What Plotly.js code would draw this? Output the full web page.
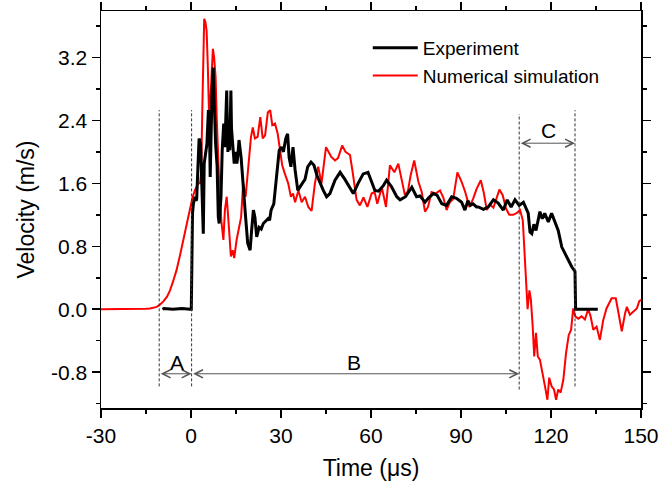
<!DOCTYPE html>
<html>
<head>
<meta charset="utf-8">
<script src="https://cdn.plot.ly/plotly-3.0.1.min.js"></script>
<style>html,body{margin:0;padding:0;background:#fff;}#chart{width:671px;height:484px;}</style>
</head>
<body>
<div id="chart"></div>
<script>
// ---- Data ----
const simTime = [-30,-20,-15,-13.7,-12.5,-11.4,-10.3,-9.2,-8,-7,-6,-4.8,-3.7,-2.6,-1.5,-0.3,0.5,1.3,2.4,3.0,3.4,3.8,4.1,4.4,4.8,5.2,5.6,6.0,6.5,7.0,7.3,7.7,8.2,8.6,9.1,9.6,10.2,10.8,11.3,11.9,12.4,12.9,13.3,13.9,14.4,15.2,15.8,16.7,17.4,18.2,19.1,20.0,20.6,21.3,22.2,23.1,23.9,24.7,25.6,26.4,27.1,28.0,28.9,29.7,30.4,31.3,32.4,33.3,34.0,34.7,35.8,36.9,38.0,39.1,40.2,41.3,42.4,43.5,45.0,46.7,48.0,49.0,50.4,51.5,53.0,53.9,55.2,56.3,57.5,58.8,60.2,61.2,62.1,63.6,65.0,66.3,67.8,69.1,70.2,71.3,72.3,73.2,74.4,75.8,76.9,78.0,79.0,80.2,81.5,83.0,84.1,85.2,86.3,87.4,88.8,90.2,91.4,92.8,94.0,95.2,96.6,97.6,98.6,99.7,100.8,101.9,102.8,103.9,105.0,106.1,107.4,108.5,109.7,110.6,111.1,111.7,112.2,112.8,113.3,113.9,114.4,115.0,115.6,116.3,117.2,118.0,118.8,119.4,120.2,121.0,121.7,122.4,123.2,124.1,125.0,125.9,126.7,127.4,128.1,129.1,130.2,131.3,132.4,133.2,134.1,135.2,136.3,137.4,138.5,140.2,141.6,142.4,143.6,144.7,145.3,146.3,147.4,148.6,149.4,150];
const simVelocity = [0,0,0.005,0.01,0.02,0.03,0.06,0.1,0.16,0.24,0.35,0.5,0.68,0.88,1.08,1.30,1.42,1.51,1.60,1.60,1.75,2.6,3.4,3.69,3.65,3.54,3.1,2.49,2.7,3.2,3.31,3.2,2.95,2.4,1.77,1.4,1.09,0.88,1.26,1.43,1.17,0.9,0.67,0.75,0.65,0.88,1.0,1.17,1.60,1.43,1.81,2.19,2.31,2.17,2.19,2.44,2.17,2.21,2.50,2.53,2.34,2.36,2.23,2.02,1.83,1.72,1.60,1.43,1.47,1.36,1.51,1.36,1.43,1.30,1.25,1.60,1.81,1.6,2.06,1.94,1.89,1.92,2.08,2.0,1.96,1.74,1.39,1.32,1.42,1.30,1.47,1.49,1.34,1.55,1.30,1.83,1.74,1.85,1.64,1.45,1.50,1.70,1.89,1.62,1.49,1.24,1.3,1.49,1.47,1.51,1.42,1.26,1.36,1.4,1.74,1.62,1.49,1.30,1.40,1.53,1.64,1.48,1.26,1.33,1.29,1.41,1.52,1.45,1.28,1.20,1.20,1.22,1.26,1.13,0.75,0.29,0.0,0.24,0.12,-0.22,-0.60,-0.30,-0.60,-0.64,-0.85,-0.98,-1.15,-0.87,-0.98,-1.02,-1.15,-1.02,-1.06,-0.90,-0.56,-0.33,-0.26,0.01,-0.09,-0.12,-0.09,-0.13,0.0,-0.09,-0.26,-0.22,-0.39,-0.14,0.01,0.14,0.14,-0.01,-0.28,-0.05,0.03,-0.07,-0.03,0.01,0.10,0.12];

const expTime = [-9.5,-9,-6,-3,-0.3,0.1,0.3,0.5,0.8,1.3,1.7,1.9,2.3,2.7,3.2,3.6,4.1,4.4,4.8,5.3,5.8,6.1,6.4,6.7,7.0,7.4,7.7,8.0,8.2,8.7,9.1,9.4,10.0,10.4,10.9,11.3,11.6,11.9,12.3,12.6,12.9,13.3,13.5,13.8,14.4,14.8,15.3,15.6,16.0,16.7,17.4,18.2,18.9,19.7,20.2,20.8,21.3,21.9,22.7,23.4,24.1,24.9,25.7,26.2,26.7,27.6,28.2,28.9,29.4,30.2,30.8,31.6,32.2,32.7,33.3,34.0,34.7,35.6,36.3,37.1,38.0,38.9,40.0,41.0,42.0,43.0,44.1,45.2,46.3,48.0,49.7,51.3,53.0,54.1,55.7,57.4,59.0,59.8,61.3,62.5,64.1,65.2,66.8,68.6,69.7,71.5,73.6,75.2,76.3,78.0,79.3,80.8,82.0,83.6,85.2,86.9,88.5,90.2,91.3,92.3,93.1,94.0,95.2,95.8,97.5,99.1,100.8,102.4,104.1,105.4,106.7,108.0,109.4,110.8,111.6,112.4,113.0,113.6,114.3,115.0,116.3,117.1,117.9,119.1,120.2,121.2,122.4,123.6,125.2,126.9,128.0,128.2,135.6];
const expVelocity = [0.0,0.01,0.0,0.01,0.0,0.0,0.6,1.22,1.34,1.43,1.38,1.40,1.8,2.17,2.10,1.60,0.96,1.85,1.95,2.10,2.53,2.45,1.68,2.4,2.75,3.07,2.7,2.4,2.10,1.82,1.17,1.09,1.43,2.02,2.36,2.06,2.4,2.78,2.0,2.2,2.02,2.78,2.3,2.10,1.85,2.0,1.85,1.95,2.15,1.93,1.51,1.17,0.84,0.75,1.0,1.26,1.17,0.92,1.04,1.02,1.09,1.12,1.15,1.13,1.26,1.34,1.60,1.87,2.02,2.06,2.0,2.17,2.23,1.93,1.81,2.06,1.77,1.51,1.56,1.60,1.65,1.81,1.87,1.83,1.70,1.60,1.51,1.43,1.47,1.64,1.74,1.65,1.55,1.47,1.60,1.72,1.74,1.65,1.51,1.50,1.57,1.64,1.56,1.43,1.39,1.43,1.55,1.43,1.44,1.36,1.42,1.47,1.45,1.34,1.32,1.43,1.41,1.36,1.26,1.38,1.32,1.34,1.30,1.30,1.27,1.30,1.39,1.35,1.26,1.39,1.30,1.39,1.32,1.36,1.30,1.22,0.98,0.96,1.08,1.0,1.24,1.15,1.22,1.11,1.22,1.12,1.0,0.79,0.67,0.54,0.48,0.0,0.0];

const xTickVals = [-30,0,30,60,90,120,150];
const xTickText = ['-30','0','30','60','90','120','150'];
const xMinorVals = [-15,15,45,75,105,135];
const yTickVals = [-0.8,0,0.8,1.6,2.4,3.2];
const yTickText = ['-0.8','0.0','0.8','1.6','2.4','3.2'];
const yMinorVals = [-1.2,-0.4,0.4,1.2,2.0,2.8,3.6];

// phase markers (time) and arrow rows (velocity)
const phaseLines = [-10.6, 0.2, 109.4, 128.0];
const phaseLineTop = [2.53, 2.53, 2.48, 2.53];
const phaseLineBottom = [-0.98, -0.98, -1.02, -0.98];
const phaseLabels = ['A','B','C'];
const phaseSpans = [[-10.6,0.2],[0.2,109.4],[109.4,128.0]];
const phaseArrowY = [-0.82,-0.82,2.11];
const phaseLabelPos = [[-4.8,-0.68],[54.3,-0.68],[119.1,2.27]];

const FONT = '"Liberation Sans", Arial, sans-serif';

const traces = [
  {x: simTime, y: simVelocity, type:'scatter', mode:'lines', name:'Numerical simulation',
   line:{color:'#ff0000', width:2}},
  {x: expTime, y: expVelocity, type:'scatter', mode:'lines', name:'Experiment',
   line:{color:'#000000', width:3}}
];

const shapes = phaseLines.map((t,i)=>({
  type:'line', xref:'x', yref:'y', x0:t, x1:t, y0:phaseLineBottom[i], y1:phaseLineTop[i],
  line:{color:'#333333', width:1, dash:'3px,2px'}
}));

const annotations = [];
phaseSpans.forEach((s,i)=>{
  annotations.push({
    xref:'x', yref:'y', axref:'x', ayref:'y', x:s[1], y:phaseArrowY[i], ax:s[0], ay:phaseArrowY[i],
    text:'', showarrow:true, arrowside:'end+start', arrowhead:5, startarrowhead:5,
    arrowsize:1.6, startarrowsize:1.6, arrowwidth:1, arrowcolor:'#555555', standoff:0, startstandoff:0
  });
  annotations.push({
    xref:'x', yref:'y', x:phaseLabelPos[i][0], y:phaseLabelPos[i][1], text:phaseLabels[i],
    showarrow:false, font:{family:FONT, size:21, color:'#000'}
  });
});

const axisCommon = {
  showline:true, linecolor:'#000', linewidth:1.5, mirror:'ticks', ticks:'outside',
  ticklen:8, tickwidth:1.5, tickcolor:'#000', showgrid:false, zeroline:false,
  tickfont:{family:FONT, size:21, color:'#000'}, tickmode:'array'
};

const layout = {
  width:671, height:484,
  margin:{l:101, r:30, t:11, b:76, pad:0},
  paper_bgcolor:'#fff', plot_bgcolor:'#fff',
  font:{family:FONT, color:'#000'},
  showlegend:true,
  legend:{x:0.494, y:0.955, xanchor:'left', yanchor:'top', traceorder:'reversed',
    bgcolor:'rgba(0,0,0,0)', borderwidth:0, font:{family:FONT, size:19, color:'#000'},
    itemwidth:45, tracegroupgap:0},
  xaxis: Object.assign({}, axisCommon, {
    range:[-30,150], tickvals:xTickVals, ticktext:xTickText,
    minor:{tickmode:'array', tickvals:xMinorVals, ticklen:4, tickwidth:1.5, tickcolor:'#000', ticks:'outside'},
    title:{text:'Time (μs)', font:{family:FONT, size:23, color:'#000'}, standoff:14}
  }),
  yaxis: Object.assign({}, axisCommon, {
    range:[-1.255,3.79], tickvals:yTickVals, ticktext:yTickText,
    minor:{tickmode:'array', tickvals:yMinorVals, ticklen:4, tickwidth:1.5, tickcolor:'#000', ticks:'outside'},
    title:{text:'Velocity (m/s)', font:{family:FONT, size:23, color:'#000'}, standoff:10}
  }),
  shapes: shapes,
  annotations: annotations
};

Plotly.newPlot('chart', traces, layout, {displayModeBar:false, staticPlot:true});
</script>
</body>
</html>
